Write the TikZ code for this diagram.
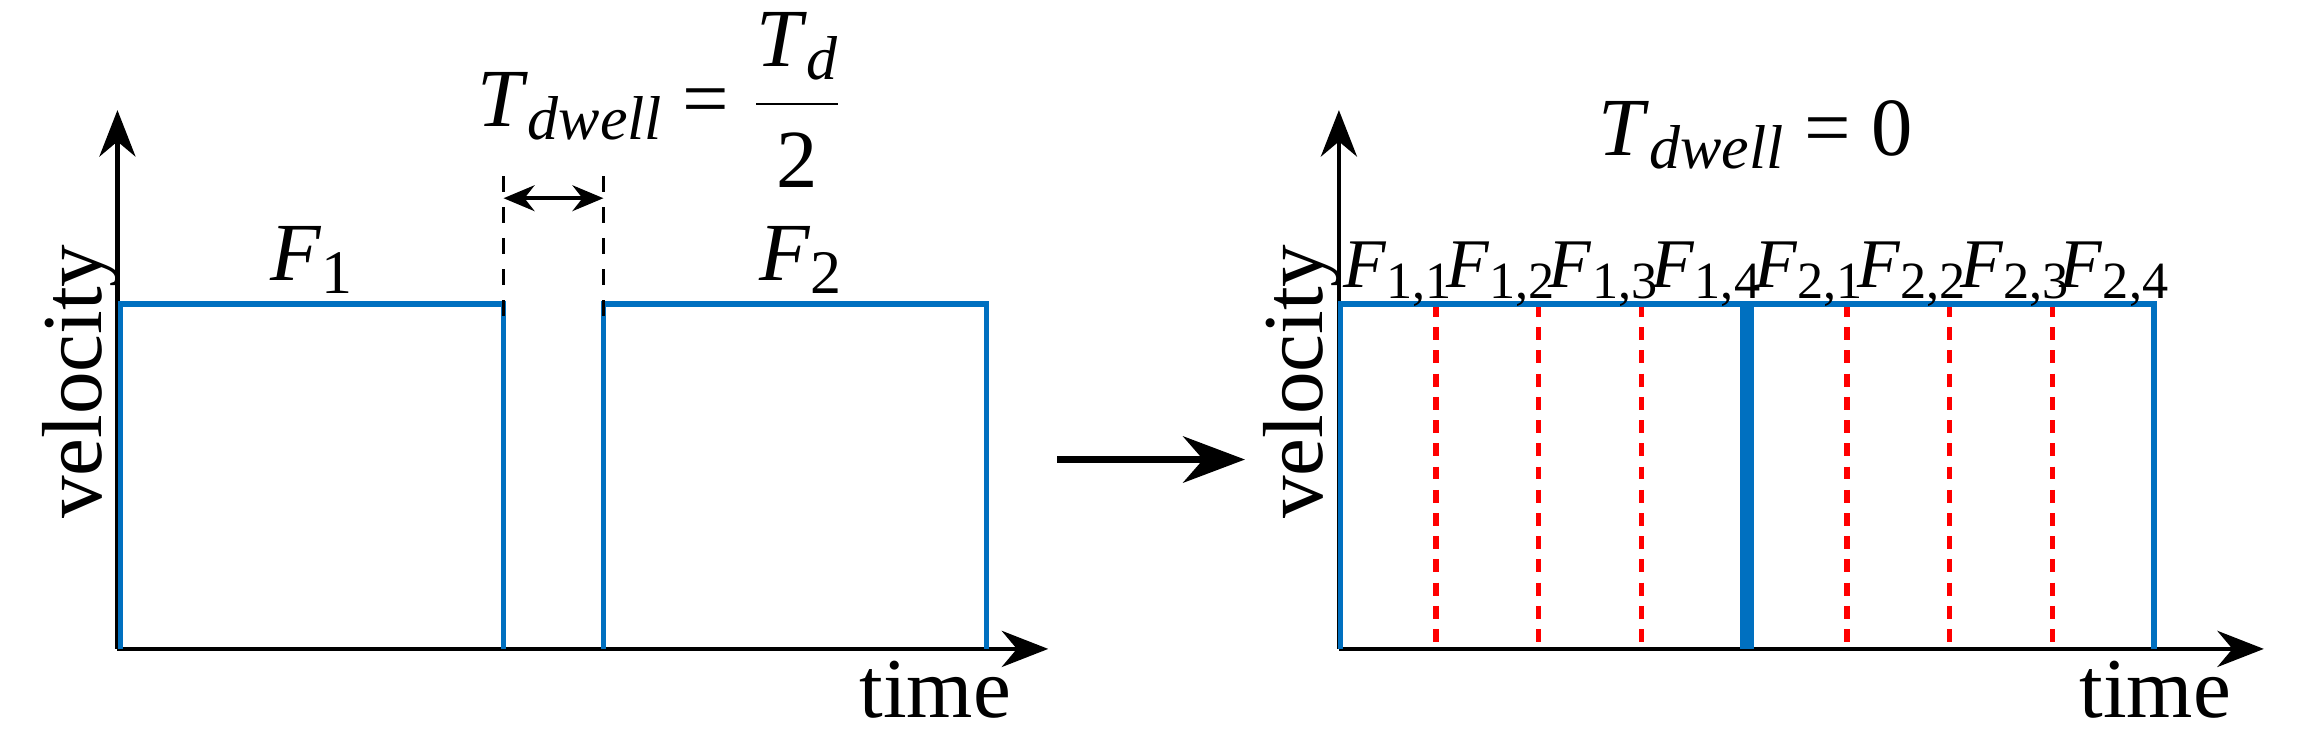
\documentclass[tikz,border=0pt]{standalone}
\usepackage{fontspec}
\setmainfont{Liberation Serif}
\usetikzlibrary{arrows.meta}
\newcommand\myit[1]{\textit{#1}}
\newcommand\mysub[1]{\raisebox{-0.35ex}{\scalebox{0.75}{#1}}}
\begin{document}
\begin{tikzpicture}[x=0.01cm,y=-0.01cm,
  ax/.style={line width=0.8pt,-{Stealth[length=9pt,width=7pt]}},
  blue/.style={line width=1.1pt,draw={rgb,255:red,0;green,112;blue,192}},
  red/.style={line width=1.1pt,draw=red,dash pattern=on 2.5pt off 2pt},
  big/.style={font=\fontsize{16.5}{18}\selectfont},
  lab/.style={font=\fontsize{16}{18}\selectfont},
  sm/.style={font=\fontsize{13.5}{15}\selectfont,inner sep=0pt}]
\useasboundingbox (0,0) rectangle (1568,511);
% left plot
\coordinate (o1) at (80,442);
\coordinate (y1) at (80,75);
\coordinate (x1) at (714,442);
\draw[ax] (o1) -- (y1);
\draw[ax] (o1) -- (x1);
\draw[blue] (82,442) -- (82,207) -- (343,207) -- (343,442);
\draw[blue] (411,442) -- (411,207) -- (672,207) -- (672,442);
\draw[dashed,line width=0.7pt] (343,120) -- (343,225);
\draw[dashed,line width=0.7pt] (411,120) -- (411,225);
\coordinate (da) at (343,135); \coordinate (db) at (411,135);
\draw[line width=0.7pt,{Stealth[length=6pt,width=5pt]}-{Stealth[length=6pt,width=5pt]}] (da) -- (db);
\node[big,rotate=90] (v1) at (55,260) {velocity};
\node[big] (t1) at (637,470) {time};
\node[lab] (f1) at (212,177) {\myit{F}\mysub{1}};
\node[lab] (f2) at (545,177) {\myit{F}\mysub{2}};
\node[lab] (td) at (450,68) {\myit{T}\mysub{\myit{dwell}} = $\displaystyle\frac{\hbox{\myit{T}\mysub{\myit{d}}}}{\hbox{2}}$};
% middle arrow
\coordinate (ma) at (720,313); \coordinate (mb) at (848,313);
\draw[line width=1.2pt,-{Stealth[length=12pt,width=9pt]}] (ma) -- (mb);
% right plot
\coordinate (o2) at (912,442);
\coordinate (y2) at (912,75);
\coordinate (x2) at (1542,442);
\draw[ax] (o2) -- (y2);
\draw[ax] (o2) -- (x2);
\foreach \x in {978,1048,1118,1258,1328,1398}
  \draw[red] (\x,207) -- (\x,442);
\draw[blue] (913,442) -- (913,207) -- (1467,207) -- (1467,442);
\draw[blue,line width=2.6pt] (1190,207) -- (1190,442);
\node[big,rotate=90] (v2) at (887,260) {velocity};
\node[big] (t2) at (1468,470) {time};
\node[lab] (tz) at (1196,92) {\myit{T}\mysub{\myit{dwell}} = 0};
\foreach \i/\x/\l in {1/952/{1,1},2/1022/{1,2},3/1092/{1,3},4/1162/{1,4},5/1232/{2,1},6/1302/{2,2},7/1372/{2,3},8/1440/{2,4}}
  \node[sm] (g\i) at (\x,187) {\myit{F}\mysub{\l}};
\end{tikzpicture}
\end{document}
